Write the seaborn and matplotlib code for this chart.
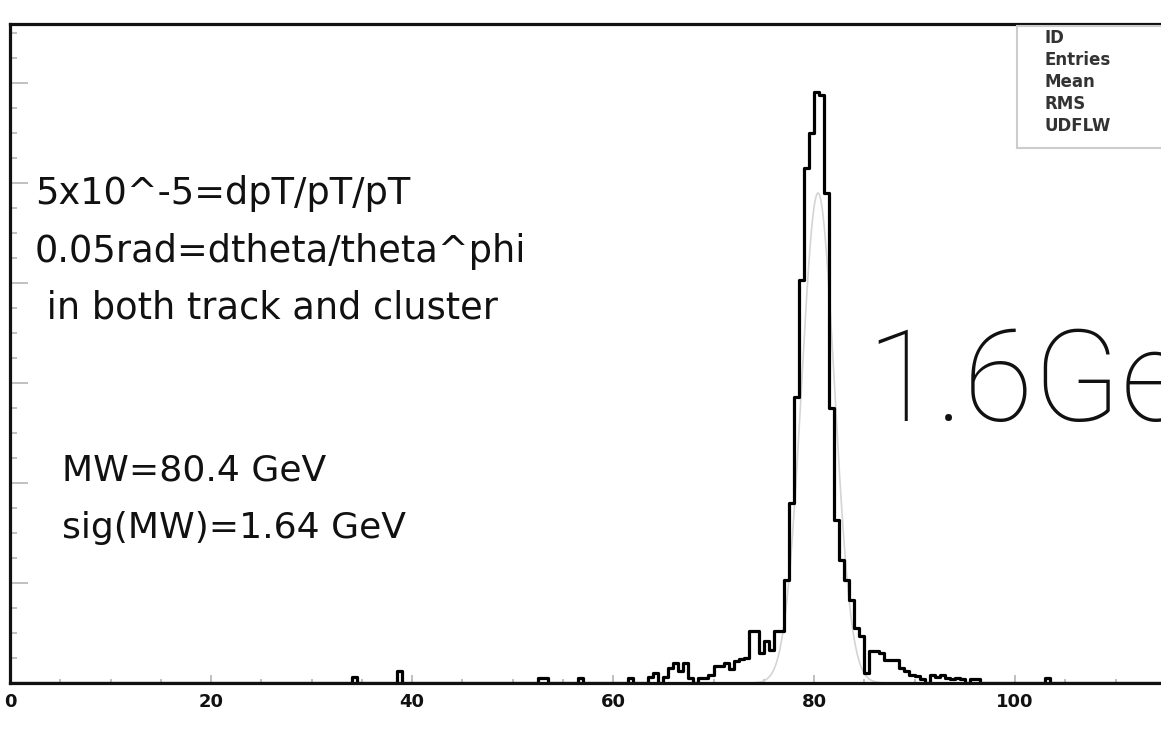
import numpy as np
import pandas as pd
import seaborn as sns
import matplotlib.pyplot as plt
from matplotlib.patches import Rectangle
from matplotlib.ticker import MultipleLocator

# reconstructed W mass histogram, 0.5 GeV bins: left edge of each filled bin and its height
bin_lo = [34.0, 38.5, 52.5, 53.0, 56.5, 61.5, 63.5, 64.0, 65.0, 65.5,
          66.0, 66.5, 67.0, 67.5, 68.5, 69.0, 69.5, 70.0, 70.5, 71.0,
          71.5, 72.0, 72.5, 73.0, 73.5, 74.0, 74.5, 75.0, 75.5, 76.0,
          76.5, 77.0, 77.5, 78.0, 78.5, 79.0, 79.5, 80.0, 80.5, 81.0,
          81.5, 82.0, 82.5, 83.0, 83.5, 84.0, 84.5, 85.0, 85.5, 86.0,
          86.5, 87.0, 87.5, 88.0, 88.5, 89.0, 89.5, 90.0, 90.5, 91.5,
          92.0, 92.5, 93.0, 93.5, 94.0, 94.5, 95.5, 96.0, 103.0]
entries = [6, 12, 5, 5, 5, 5, 6, 10, 6, 15,
           20, 12, 20, 5, 5, 5, 8, 17, 17, 20,
           14, 22, 24, 25, 52, 52, 30, 42, 33, 52,
           52, 103, 180, 286, 403, 515, 550, 591, 588, 490,
           275, 163, 123, 103, 83, 55, 47, 10, 32, 32,
           30, 23, 23, 23, 15, 12, 8, 7, 4, 8,
           6, 8, 5, 4, 5, 4, 4, 4, 5]
bin_width = 0.5

# gaussian fit drawn on top (values from the annotation)
fit_mean = 80.4
fit_sigma = 1.64
fit_peak = 490

xticks = [0, 20, 40, 60, 80, 100]
stat_labels = ["ID", "Entries", "Mean", "RMS", "UDFLW"]

note_lines = ["5x10^-5=dpT/pT/pT",
              "0.05rad=dtheta/theta^phi",
              " in both track and cluster"]
mass_lines = ["MW=80.4 GeV", "sig(MW)=1.64 GeV"]
big_label = "1.6GeV"

sns.set_style("ticks")
plt.rcParams['font.family'] = ['DejaVu Sans']

df = pd.DataFrame({"mass": np.array(bin_lo) + bin_width / 2, "entries": entries})

W, H = 1161, 732
fig = plt.figure(figsize=(W / 100, H / 100), dpi=100)
# the frame runs past the right edge of the picture, as in the original
ax = fig.add_axes([10 / W, 1 - 683 / H, 1206 / W, 659 / H])

xfit = np.linspace(72, 90, 400)
fit = pd.DataFrame({"x": xfit,
                    "y": fit_peak * np.exp(-0.5 * ((xfit - fit_mean) / fit_sigma) ** 2)})
sns.lineplot(data=fit, x="x", y="y", color="#d4d4d4", linewidth=1.2, ax=ax)

sns.histplot(data=df, x="mass", weights="entries", binwidth=bin_width, binrange=(0, 120),
             element="step", fill=False, color="black", linewidth=2.3, ax=ax)

ax.set_xlim(0, 120)
ax.set_ylim(0, 659)
ax.set_xlabel("")
ax.set_ylabel("")

ax.set_xticks(xticks)
ax.xaxis.set_minor_locator(MultipleLocator(5))
ax.set_yticks(np.arange(0, 659, 100))
ax.yaxis.set_minor_locator(MultipleLocator(25))
ax.tick_params(axis="x", which="both", direction="in", color="#b5b5b5",
               labelsize=13, pad=7, labelcolor="#111111")
ax.tick_params(axis="x", which="major", length=6, width=1.2)
ax.tick_params(axis="x", which="minor", length=3, width=1.2)
ax.tick_params(axis="y", which="both", direction="in", color="#b5b5b5", labelleft=False)
ax.tick_params(axis="y", which="major", length=13, width=1.2)
ax.tick_params(axis="y", which="minor", length=5, width=1.2)
for lbl in ax.get_xticklabels():
    lbl.set_fontweight("bold")

for side in ["top", "left", "bottom", "right"]:
    ax.spines[side].set_visible(True)
    ax.spines[side].set_color("#111111")
    ax.spines[side].set_linewidth(2.3)


def fx(px):
    return px / W


def fy(py):
    return 1 - py / H


for txt, y in zip(note_lines, [193, 252, 308]):
    fig.text(fx(35), fy(y), txt, fontsize=26.5, va="center", ha="left", color="#111111")
for txt, y in zip(mass_lines, [470, 528]):
    fig.text(fx(62), fy(y), txt, fontsize=26, va="center", ha="left", color="#111111")

fig.text(fx(866), fy(421), big_label, fontsize=92, family="Roboto", fontweight="light",
         va="baseline", ha="left", color="#111111")

# statistics box in the upper right corner
fig.add_artist(Rectangle((fx(1017), fy(148)), (W - 1017) / W + 0.02, (148 - 26) / H,
                         transform=fig.transFigure, facecolor="white",
                         edgecolor="#cccccc", linewidth=1.5, zorder=5))
for txt, y in zip(stat_labels, [38, 60, 82, 104, 126]):
    fig.text(fx(1045), fy(y), txt, fontsize=12, fontweight="bold", va="center",
             ha="left", color="#333333", zorder=6)

fig.savefig("out.png", dpi=100)
